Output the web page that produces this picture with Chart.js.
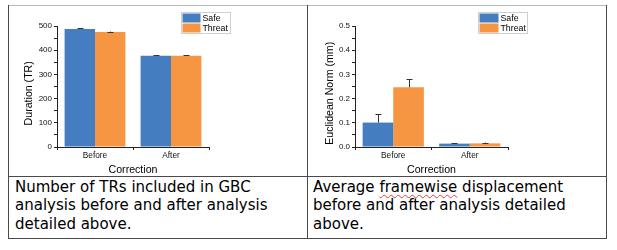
<!DOCTYPE html>
<html><head><meta charset="utf-8">
<script src="https://cdn.jsdelivr.net/npm/chart.js@4.4.1/dist/chart.umd.min.js"></script>
<style>
html,body{margin:0;padding:0;background:#fff;width:617px;height:250px;overflow:hidden}
body{position:relative}
.c{position:absolute}
.ln{position:absolute;background:#4a4a4a}
.txt{position:absolute;font-family:"DejaVu Sans";font-size:15px;line-height:18.3px;color:#000;white-space:nowrap}
.sq{text-decoration:underline wavy #e0443c;text-decoration-thickness:1px;text-underline-offset:2px}
</style></head><body>
<canvas id="c1" class="c" width="299" height="171" style="left:8px;top:5px"></canvas>
<canvas id="c2" class="c" width="298" height="171" style="left:308px;top:5px"></canvas>
<div class="ln" style="left:8px;top:5px;width:599px;height:1px;background:#b8b8b8"></div>
<div class="ln" style="left:8px;top:5px;width:1px;height:234px"></div>
<div class="ln" style="left:606px;top:5px;width:1px;height:234px"></div>
<div class="ln" style="left:307px;top:5px;width:1px;height:234px"></div>
<div class="ln" style="left:8px;top:176px;width:599px;height:1px"></div>
<div class="ln" style="left:8px;top:238px;width:599px;height:1px"></div>
<div class="txt" style="left:15px;top:178px">Number of TRs included in GBC<br>analysis before and after analysis<br>detailed above.</div>
<div class="txt" style="left:313px;top:178px">Average <span class="sq">framewise</span> displacement<br>before and after analysis detailed<br>above.</div>
<script>
const categories = ['Before', 'After'];
const seriesNames = ['Safe', 'Threat'];
const durSafe = [488, 377];
const durSafeErr = [2, 3];
const durThreat = [475, 377];
const durThreatErr = [2, 3];
const fdSafe = [0.101, 0.014];
const fdSafeErr = [0.034, 0.003];
const fdThreat = [0.247, 0.015];
const fdThreatErr = [0.032, 0.003];
const durTicks = [0, 100, 200, 300, 400, 500];
const fdTicks = [0, 0.1, 0.2, 0.3, 0.4, 0.5];
const xTitle = 'Correction';
const durTitle = 'Duration (TR)';
const fdTitle = 'Euclidean Norm (mm)';

const BLUE = 'rgb(68,126,193)';
const ORANGE = 'rgb(246,150,66)';
const AX = '#222';
const FONT = '"Liberation Sans", Arial, sans-serif';

const errBars = {
  id: 'errBars',
  afterDatasetsDraw(chart) {
    const ctx = chart.ctx, ys = chart.scales.y;
    ctx.save();
    ctx.strokeStyle = '#333';
    ctx.lineWidth = 1;
    chart.data.datasets.forEach((ds, i) => {
      const meta = chart.getDatasetMeta(i);
      meta.data.forEach((bar, j) => {
        const yTop = ys.getPixelForValue(ds.data[j] + ds.errors[j]);
        const x = Math.round(bar.x) + 0.5;
        ctx.beginPath();
        ctx.moveTo(x, bar.y);
        ctx.lineTo(x, yTop);
        ctx.moveTo(x - 3, Math.round(yTop) + 0.5);
        ctx.lineTo(x + 3, Math.round(yTop) + 0.5);
        ctx.stroke();
      });
    });
    ctx.restore();
  }
};

const boxLegend = {
  id: 'boxLegend',
  afterDraw(chart, args, o) {
    const ctx = chart.ctx;
    ctx.save();
    ctx.strokeStyle = '#cfcfcf';
    ctx.lineWidth = 1;
    ctx.strokeRect(o.x + 0.5, o.y + 0.5, o.w, o.h);
    chart.data.datasets.forEach((ds, i) => {
      const y = o.y + 1.5 + i * o.rowH;
      ctx.fillStyle = ds.backgroundColor;
      ctx.fillRect(o.x + 1.5, y, o.swW, o.swH);
      ctx.fillStyle = '#000';
      ctx.font = '8.8px ' + FONT;
      ctx.textBaseline = 'middle';
      ctx.textAlign = 'left';
      ctx.fillText(ds.label, o.x + 1.5 + o.swW + o.gap, y + o.swH / 2 + 0.5);
    });
    ctx.restore();
  }
};

const yTitle = {
  id: 'yTitle',
  afterDraw(chart, args, o) {
    const ctx = chart.ctx;
    ctx.save();
    ctx.translate(o.x, o.y);
    ctx.rotate(-Math.PI / 2);
    ctx.fillStyle = '#000';
    ctx.font = '10.6px ' + FONT;
    ctx.textAlign = 'center';
    ctx.textBaseline = 'middle';
    ctx.fillText(o.text, 0, 0);
    ctx.restore();
  }
};

function makeChart(id, safe, safeErr, threat, threatErr, yMax, step, labelFn, yW, legendPos, titleText, titlePos) {
  return new Chart(document.getElementById(id), {
    type: 'bar',
    data: {
      labels: categories,
      datasets: [
        { label: seriesNames[0], data: safe, errors: safeErr, backgroundColor: BLUE, borderWidth: 0, categoryPercentage: 0.8, barPercentage: 1.0 },
        { label: seriesNames[1], data: threat, errors: threatErr, backgroundColor: ORANGE, borderWidth: 0, categoryPercentage: 0.8, barPercentage: 1.0 }
      ]
    },
    options: {
      responsive: false,
      animation: false,
      layout: { padding: { left: 0, right: 98, top: 21, bottom: 0 } },
      plugins: {
        legend: { display: false },
        tooltip: { enabled: false },
        boxLegend: legendPos,
        yTitle: Object.assign({ text: titleText }, titlePos)
      },
      scales: {
        x: {
          type: 'category',
          grid: { drawOnChartArea: false, drawTicks: true, tickLength: 3, color: AX, offset: true },
          border: { display: true, color: AX, width: 1 },
          ticks: { color: '#111', font: { family: FONT, size: 8.3 }, padding: 1, maxRotation: 0 },
          title: { display: true, text: xTitle, color: '#000', font: { family: FONT, size: 10.6 }, padding: { top: 0, bottom: 0 } },
          afterFit(s) { s.height = 29; }
        },
        y: {
          min: 0, max: yMax,
          grid: { drawOnChartArea: false, drawTicks: true, tickLength: 3, color: AX },
          border: { display: true, color: AX, width: 1 },
          ticks: { stepSize: step, autoSkip: false, color: '#111', font: { family: FONT, size: 8 }, padding: 2, callback: labelFn },
          afterFit(s) { s.width = yW; }
        }
      }
    },
    plugins: [errBars, boxLegend, yTitle]
  });
}

makeChart('c1', durSafe, durSafeErr, durThreat, durThreatErr, 500, 50,
  v => durTicks.some(t => Math.abs(t - v) < 1e-6) ? String(Math.round(v)) : '',
  49, { x: 173, y: 7, w: 49, h: 21, swW: 18, swH: 9, rowH: 10, gap: 2 },
  durTitle, { x: 21.5, y: 88.3 });

makeChart('c2', fdSafe, fdSafeErr, fdThreat, fdThreatErr, 0.5, 0.05,
  v => fdTicks.some(t => Math.abs(t - v) < 1e-6) ? v.toFixed(1) : '',
  47, { x: 170, y: 7, w: 49, h: 21, swW: 19, swH: 9, rowH: 10, gap: 2 },
  fdTitle, { x: 22, y: 88.3 });
</script>
</body></html>
